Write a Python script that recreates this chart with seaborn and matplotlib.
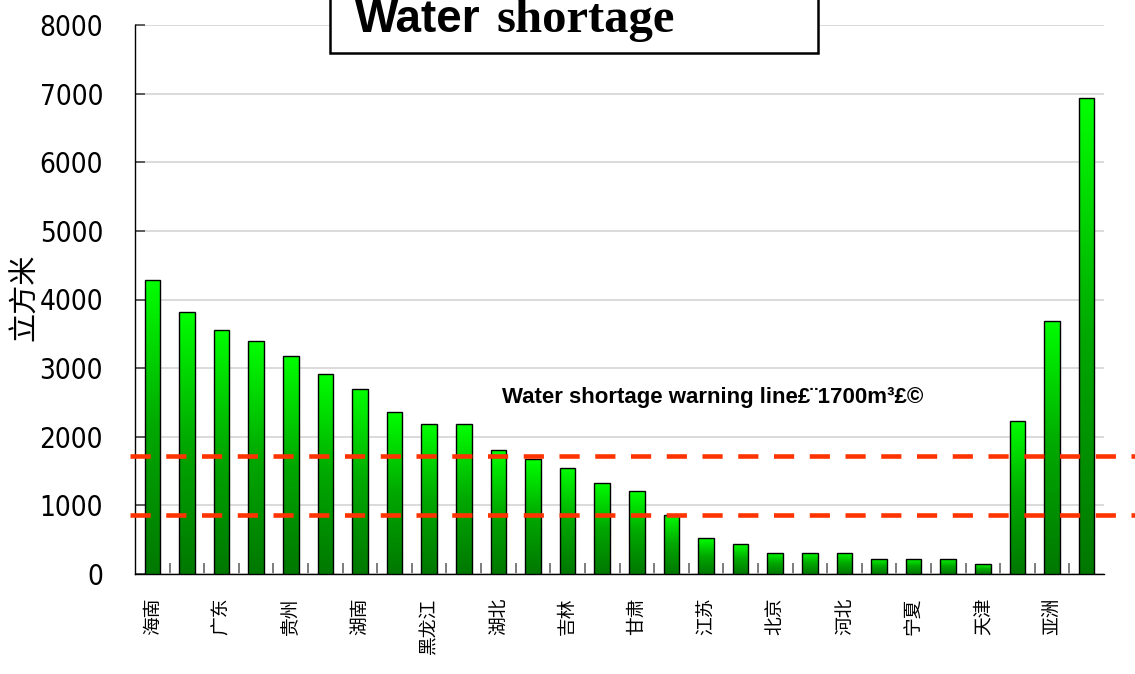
import matplotlib
matplotlib.use("Agg")
import matplotlib.pyplot as plt
import matplotlib.patches as mpatches
from matplotlib import font_manager
from matplotlib.colors import LinearSegmentedColormap
import numpy as np
import pandas as pd
import seaborn as sns

# ---- data ----
values = [4280, 3815, 3560, 3390, 3170, 2915, 2700, 2355, 2185, 2185,
          1800, 1670, 1545, 1330, 1205, 865, 520, 435, 310, 310,
          310, 225, 225, 225, 140, 2235, 3690, 6940]
tick_labels = ["海南", "广东", "贵州", "湖南", "黑龙江", "湖北", "吉林",
               "甘肃", "江苏", "北京", "河北", "宁夏", "天津", "亚洲"]
warning_levels = [1715, 862]
warning_text = "Water shortage warning line£¨1700m³£©"
y_label = "立方米"
title_parts = ["Water", "shortage"]

sns.set_theme(style="white")
plt.rcParams['font.family'] = ['Liberation Sans', 'Noto Sans CJK SC', 'DejaVu Sans']
plt.rcParams['text.color'] = 'black'
plt.rcParams['xtick.color'] = 'black'
plt.rcParams['ytick.color'] = 'black'

# pick a narrow font for the y tick labels if one is installed
narrow_path = None
for f in font_manager.fontManager.ttflist:
    nm = f.name.lower()
    if ("narrow" in nm or "condensed" in nm or f.stretch in ("condensed", "semi-condensed", "extra-condensed")) \
            and f.weight in ("normal", 400, "regular") and f.style == "normal":
        narrow_path = f.fname
        break

fig = plt.figure(figsize=(11.35, 6.74), dpi=100)
ax = fig.add_axes([135/1135, 1-574/674, (1104-135)/1135, (574-25)/674])

df = pd.DataFrame({"idx": list(range(len(values))), "value": values})
sns.barplot(data=df, x="idx", y="value", ax=ax, width=0.45,
            color="#00c000", edgecolor="black", linewidth=1.0, zorder=3)

ax.set_xlim(-0.5, len(values) - 0.5)
ax.set_ylim(0, 8000)

# gradient fill
cmap = LinearSegmentedColormap.from_list("g", ["#007800", "#00a800", "#00ff00"])
grad = np.linspace(0, 1, 256).reshape(-1, 1)
for p in list(ax.patches):
    x0, y0 = p.get_x(), p.get_y()
    w, h = p.get_width(), p.get_height()
    im = ax.imshow(grad, extent=[x0, x0 + w, y0, y0 + h], origin="lower",
                   aspect="auto", cmap=cmap, zorder=2.9, interpolation="bilinear")
    im.set_clip_path(p)
    p.set_facecolor("none")
ax.set_xlim(-0.5, len(values) - 0.5)
ax.set_ylim(0, 8000)
ax.set_aspect("auto")

# grid
ax.set_yticks(range(0, 8001, 1000))
ax.yaxis.grid(True, color="#d4d4d4", linewidth=1.2, zorder=0)
ax.xaxis.grid(False)
ax.set_axisbelow(True)

for s in ["top", "right"]:
    ax.spines[s].set_visible(False)
for s in ["left", "bottom"]:
    ax.spines[s].set_color("black")
    ax.spines[s].set_linewidth(1.0)

ax.tick_params(axis="y", direction="in", length=7, width=1.2, color="#444444",
               pad=23, left=True)
for t in ax.get_yticklabels():
    if narrow_path:
        t.set_fontproperties(font_manager.FontProperties(fname=narrow_path, size=20))
    else:
        t.set_family(["Liberation Sans", "DejaVu Sans"])
        t.set_fontsize(17)

ax.set_xticks(range(0, 27, 2))
ax.set_xticklabels(tick_labels, rotation=90, fontsize=13.5, va="top",
                   family=["Noto Sans CJK SC", "DejaVu Sans"], fontweight="light")
ax.set_xticks(np.arange(0.5, len(values) - 0.5, 1.0), minor=True)
ax.tick_params(axis="x", which="major", length=0, pad=17)
ax.tick_params(axis="x", which="minor", direction="in", length=8, width=1.2,
               color="#666666", bottom=True)
ax.set_xlabel("")
ax.set_ylabel("")

fig.text(25/1135, 1 - 297/674, y_label, rotation=90, ha="center", va="center",
         fontsize=21, family=["Noto Sans CJK SC", "DejaVu Sans"], fontweight="light")

# warning lines
for lv in warning_levels:
    ax.plot([-0.65, 28.5], [lv, lv], color="#ff3300", linewidth=3.3,
            dashes=(4.4, 3.4), clip_on=False, zorder=5)
ax.text((502 - 135)/969, 1 - (397 - 25)/549, warning_text, transform=ax.transAxes,
        ha="left", va="center", fontsize=16, fontweight="bold",
        family=["Liberation Sans", "DejaVu Sans"], zorder=6)

# title box
rect = mpatches.Rectangle((330/1135, 1 - 53/674), (818-330)/1135, 60/674,
                          transform=fig.transFigure, facecolor="white",
                          edgecolor="black", linewidth=1.8, zorder=10)
fig.patches.append(rect)
fig.text(355/1135, 1 - 32/674, title_parts[0], fontsize=33, fontweight="bold",
         family=["Liberation Sans", "DejaVu Sans"], ha="left", va="baseline", zorder=11)
fig.text(496/1135, 1 - 32/674, title_parts[1], fontsize=35, fontweight="bold",
         family=["Liberation Serif", "DejaVu Serif"], ha="left", va="baseline", zorder=11)

fig.savefig("out.png", dpi=100)
